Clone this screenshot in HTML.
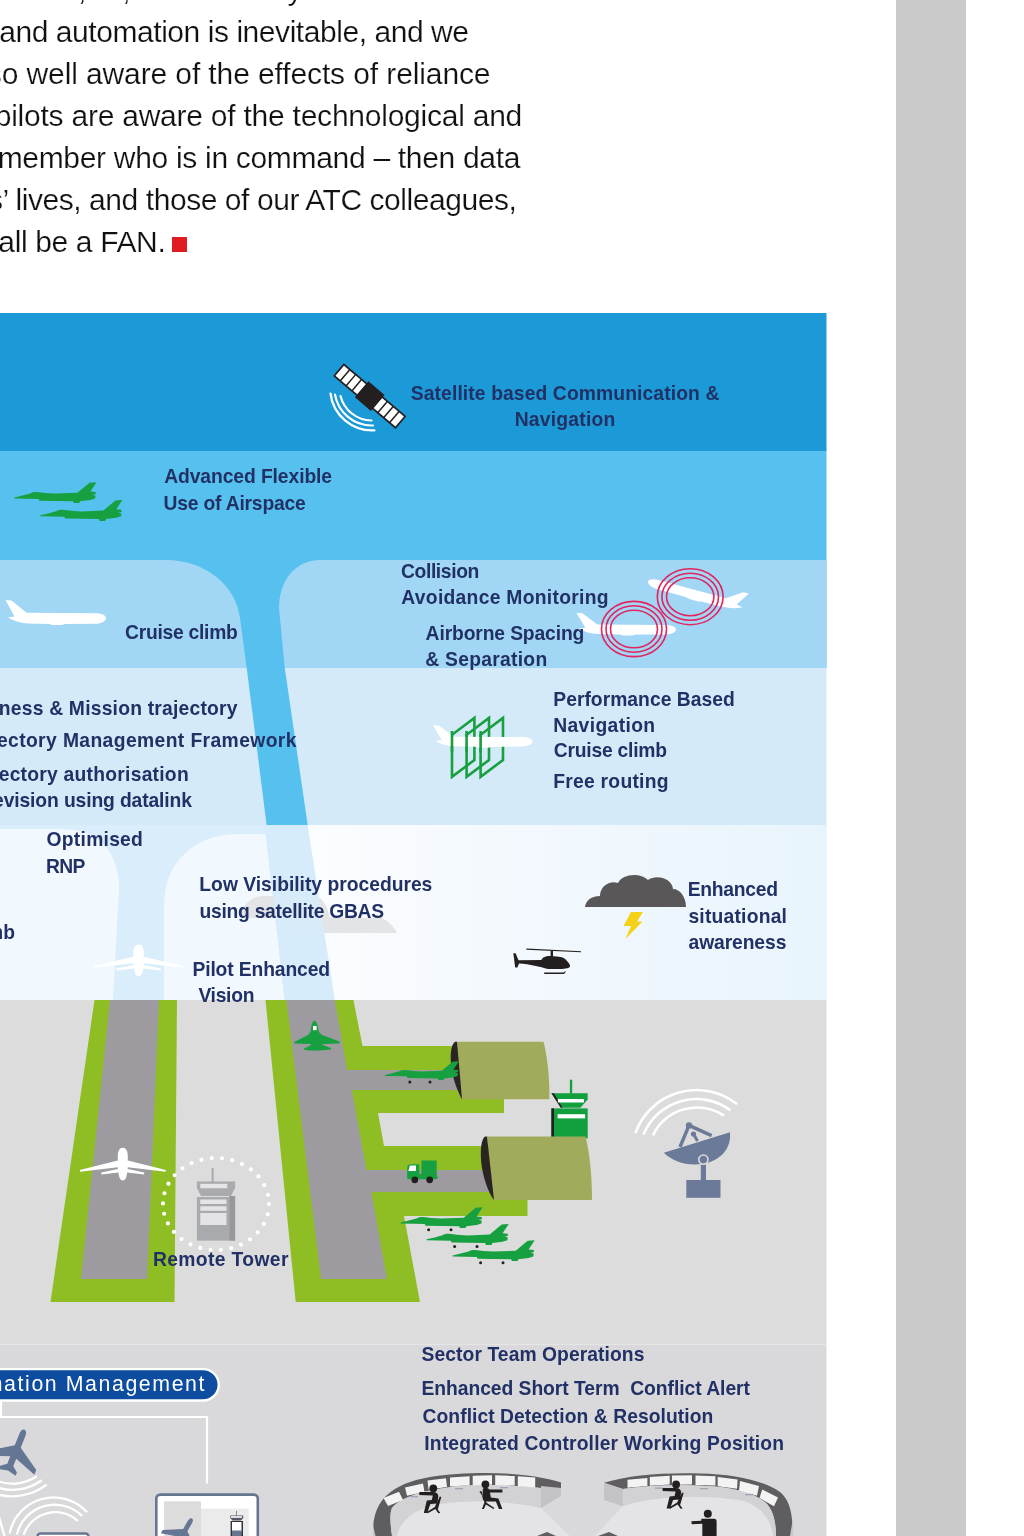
<!DOCTYPE html>
<html><head><meta charset="utf-8">
<style>
html,body{margin:0;padding:0;background:#fff;width:1024px;height:1536px;overflow:hidden}
svg{position:absolute;left:0;top:0;display:block;will-change:transform}
text{font-family:"Liberation Sans",sans-serif}
</style></head><body>
<svg width="1024" height="1536" viewBox="0 0 1024 1536">
<rect x="0" y="0" width="1024" height="1536" fill="#fff"/>
<rect x="896" y="0" width="70" height="1536" fill="#cacaca"/>
<!-- paragraph -->
<g font-size="30" fill="#111" stroke="#fff" stroke-width="0.2">
<text x="-0.75" y="41.5" letter-spacing="-0.445">and automation is inevitable, and we</text>
<text x="-13.16" y="83.8" letter-spacing="-0.112">so well aware of the effects of reliance</text>
<text x="-5.27" y="126.1" letter-spacing="-0.236">pilots are aware of the technological and</text>
<text x="-2.38" y="167.6" letter-spacing="-0.308">member who is in command – then data</text>
<text x="-148.24" y="209.9" letter-spacing="-0.438">passengers’ lives, and those of our ATC colleagues,</text>
<text x="-32.62" y="251.5" letter-spacing="-0.365">shall be a FAN.</text>
<text x="78" y="-0.5">,</text><text x="122.2" y="-0.5">,</text><text x="287.5" y="-0.5">y</text>
</g>
<rect x="172" y="237" width="15" height="15" fill="#e01b22"/>

<!-- DIAGRAM -->
<g id="diagram">
<!-- bands -->
<rect x="0" y="313" width="826.5" height="138" fill="#1b9ad7"/>
<rect x="0" y="451" width="826.5" height="217" fill="#56c1ef"/>
<!-- band3 lobes -->
<path d="M0,560 H166 C205,560 236,585 240,618 L246.7,668 H0 Z" fill="#a1d7f5"/>
<path d="M826.5,560 H320 C296,560 279,580 279,608 L284.8,668 H826.5 Z" fill="#a1d7f5"/>
<rect x="0" y="668" width="826.5" height="157" fill="#d4eaf9"/>
<path d="M246.7,668 L284.8,668 L307.7,825 L266.6,825 Z" fill="#56c1ef"/>
<!-- band5 -->
<rect x="0" y="825" width="826.5" height="175" fill="#d9edfa"/>
<path d="M0,829 H62 C98,829 119,852 119,888 L113,1000 H0 Z" fill="#f1f8fe"/>
<path d="M164,1000 L164,905 C164,862 195,834 238,834 L265.5,834 L284.7,1000 Z" fill="#f1f8fe"/>
<defs>
<linearGradient id="g5" x1="0" y1="0" x2="1" y2="0">
<stop offset="0" stop-color="#fbfdff"/><stop offset="0.25" stop-color="#f6fafe"/><stop offset="1" stop-color="#e8f4fc"/>
</linearGradient>
</defs>
<path d="M307.5,825 H826.5 V1000 H334.7 Z" fill="url(#g5)"/>
<path d="M240,918 C242,906 249,897.5 262,896 L314,896 C322,896.5 327,905 330,917.5 L381,918 C388,920 394,927 397,933 L297,933 L290,918 Z" fill="#e3e4e6"/>
<path d="M265,825 L307.5,825 L334.7,1000 L284.7,1000 Z" fill="#d6ebfa" opacity="0.9"/>
<!-- ground -->
<rect x="0" y="1000" width="826.5" height="344" fill="#dcdcdd"/>
<rect x="0" y="1344" width="826.5" height="192" fill="#d9d9db"/>
<rect x="0" y="1344" width="826.5" height="1" fill="#e6e6e7"/>
<!-- left runway -->
<path d="M94.5,1000 H177 L174.5,1302 H50.5 Z" fill="#8fbe24"/>
<path d="M110,1000 H159 L147,1279 H81 Z" fill="#9d9b9f"/>
<!-- right runway + taxiways -->
<path d="M265.5,1000 H353.4 L362.5,1046 H504 V1113 H378 L384,1146 H527.5 V1216 H404 L420,1302 H295.7 Z" fill="#8fbe24"/>
<path d="M286.4,1000 H334.8 L347,1070 H470 V1090 H351.8 L366.4,1170 H500 V1192 H371.3 L387,1279 H321 Z" fill="#9d9b9f"/>
<!-- tower behind hangar2 -->
<g>
<rect x="569.9" y="1079.7" width="2.3" height="14" fill="#11a03d"/>
<path d="M551.4,1093.2 H587.7 V1099.6 L580.4,1107.8 H560.8 Z" fill="#11a03d"/>
<rect x="551.4" y="1108.4" width="36.3" height="30" fill="#11a03d"/>
<path d="M551.4,1093.2 H554 L562.5,1107.8 H560.8 Z" fill="#231f20"/>
<rect x="551.4" y="1108.4" width="2.6" height="30" fill="#231f20"/>
<rect x="557.9" y="1099" width="26" height="3.5" fill="#fff"/>
<rect x="557.6" y="1114.2" width="27.5" height="4.2" fill="#fff"/>
</g>
<!-- hangar1 -->
<path d="M457,1041.7 H543.5 C547,1055 549.6,1075 549.4,1099.3 H462 Z" fill="#a2ab5c"/>
<path d="M455,1041.7 C449.5,1046 450,1062 452.5,1074 C455,1085 459,1094 462,1099.3 L457,1041.7 Z" fill="#2a2523"/>
<!-- hangar2 -->
<path d="M487,1136.4 H585.5 C589,1150 592,1172 592,1200 H494 Z" fill="#a2ab5c"/>
<path d="M485,1136.4 C479.5,1141 480,1160 483,1173 C486,1186 490,1195 494,1200 L487,1136.4 Z" fill="#2a2523"/>
</g>


<defs>
<path id="jet" d="M0,-0.5 L8,-2.4 L15.8,-4.6 C18,-5.6 20,-6.1 22.3,-6 C26,-5.9 28,-5.3 30.6,-5.1 L40.8,-4.4 L63.1,-5.3 L75.1,-15.3 L82.1,-15.8 L76,-6.5 L81.2,-6 L81.2,-3.7 L77.9,-3.2 L81.2,-2.3 L80.7,0.5 L76,1.9 L65.8,3.2 L64.9,5.1 L59.4,5.1 L58.4,3.2 L25,2.8 L24.1,0.9 L0,0.5 Z"/>
<path id="liner" d="M0,0 L6,0.4 L21,12.8 L91,13.2 C97,13.4 100.5,15.6 100.5,18.2 C100.5,21 96,23.6 90,23.8 L60,24 L56,25 L47,25 L44,24 L22,23.4 C14,23 8,21 2.5,17.5 L9,16.4 Z"/>
<path id="topliner" d="M0,-16.2 C3.2,-16.2 5,-13 5,-8 L5,-3.5 L43,6 L42.8,7.8 L5,3.2 L4.8,5 L21.5,8.6 L21.3,10.5 L4.4,8.5 C3.8,13.5 2.5,16.5 0,16.5 C-2.5,16.5 -3.8,13.5 -4.4,8.5 L-21.3,10.5 L-21.5,8.6 L-4.8,5 L-5,3.2 L-42.8,7.8 L-43,6 L-5,-3.5 L-5,-8 C-5,-13 -3.2,-16.2 0,-16.2 Z"/>
</defs>
<!-- satellite -->
<g transform="translate(369.7,396.1) rotate(40.3)">
<rect x="-41" y="-8.3" width="82" height="16.6" fill="#231f20"/>
<g fill="#fff">
<rect x="-39.3" y="-6.6" width="6.2" height="13.2"/><rect x="-31.6" y="-6.6" width="6.2" height="13.2"/><rect x="-23.9" y="-6.6" width="6.2" height="13.2"/><rect x="-16.2" y="-6.6" width="5.6" height="13.2"/>
<rect x="10.6" y="-6.6" width="5.6" height="13.2"/><rect x="17.7" y="-6.6" width="6.2" height="13.2"/><rect x="25.4" y="-6.6" width="6.2" height="13.2"/><rect x="33.1" y="-6.6" width="6.2" height="13.2"/>
</g>
<rect x="-10.5" y="-10.5" width="21" height="21" fill="#231f20"/>
</g>
<g fill="none" stroke="#fff" stroke-width="2.2" stroke-linecap="round">
<path d="M330.5,393.5 A42,42 0 0 0 374.5,430.3"/>
<path d="M335,394.6 A37.5,37.5 0 0 0 373,425.5"/>
<path d="M340.5,396 A32.5,32.5 0 0 0 371.5,420.5"/>
</g>
<!-- sky jets -->
<use href="#jet" transform="translate(14.4,498)" fill="#17a03f"/>
<use href="#jet" transform="translate(40.3,515.8)" fill="#17a03f"/>
<!-- band3 white liner left -->
<use href="#liner" transform="translate(5.5,600)" fill="#fff"/>
<!-- CAM planes -->
<use href="#liner" transform="translate(749,593.5) scale(-1,1) rotate(-15.5) scale(1,0.85)" fill="#fff"/>
<use href="#liner" transform="translate(576.5,613) scale(0.99,0.9)" fill="#fff"/>
<g fill="none" stroke="#e2245f" stroke-width="1.6">
<ellipse cx="690.2" cy="596.7" rx="32.9" ry="28"/><ellipse cx="690.2" cy="596.7" rx="28.3" ry="23.5"/><ellipse cx="690.2" cy="596.7" rx="23.7" ry="19"/>
<ellipse cx="634" cy="629" rx="32.5" ry="27.6"/><ellipse cx="634" cy="629" rx="28" ry="23.2"/><ellipse cx="634" cy="629" rx="23.5" ry="18.8"/>
</g>
<!-- PBN icon -->
<g fill="none" stroke="#17a03f" stroke-width="2.6">
<path d="M452,776.9 V734.8 L474.4,717.9 V760 Z"/>
<path d="M466.6,776.9 V734.8 L489,717.9 V760 Z"/>
<path d="M480.6,776.9 V734.8 L503,717.9 V760 Z"/>
</g>
<use href="#liner" transform="translate(432.9,725.2) scale(0.99,0.9)" fill="#fff"/>
<g stroke="#17a03f" stroke-width="2.6">
<path d="M452,731 V752"/><path d="M466.6,731 V752"/><path d="M480.6,731 V752"/>
</g>
<!-- band5 white liner (top view) -->
<use href="#topliner" transform="translate(138.6,960.2) scale(1.04,0.97)" fill="#fff"/>
<!-- storm cloud -->
<path d="M585,906.9 C586,900 592,896 600,896 C600,886 610,880 618,883 C622,874 640,872 648,880 C656,874 672,878 673,889 C680,889 686,897 686,906.9 Z" fill="#5a5758"/>
<path d="M631,912 L643,912 L637,921.5 L642.5,921.5 L625.5,939 L631,926 L623.5,926 Z" fill="#f5d21a"/>
<!-- helicopter -->
<g fill="#231f20">
<path d="M526.4,948.6 L581,951.2 L581,952.2 L526.4,949.8 Z"/>
<rect x="550.6" y="951" width="2.4" height="6"/>
<path d="M513.3,953.3 L515.6,953.3 L518.5,960.3 L541.5,960 C542,958 545,956 550,956 L557,956.5 C562,957 565,958 567,961 C569,963 570.3,965 570,966.5 C569.5,968 566,969 560,969 L548,969 C540,967 530,964 519,963.5 L517.4,967.4 L515.2,967.4 Z"/>
<path d="M544.2,972.6 H563.5 L565.3,971 L565.6,972 L564,974 H544.2 Z"/>
</g>
<!-- top-view green jet on runway -->
<path d="M314.5,1020.5 C316.5,1021 318,1026 319,1032 L322,1035 L339.6,1041.4 L339.4,1043.5 L323,1044 L322.5,1045 L331,1048 L331,1049.5 L320,1050.5 L314.8,1050.6 L309,1050.5 L304,1049.7 L304.2,1048.5 L311,1045 L310.5,1044 L294.2,1043.6 L294.2,1042 L308,1035 L310.5,1032 C311,1026 312.5,1021 314.5,1020.5 Z" fill="#17a03f"/>
<rect x="313" y="1026" width="3.6" height="4.2" fill="#fff"/>
<!-- taxi jet -->
<use href="#jet" transform="translate(385,1075.5) scale(0.9)" fill="#17a03f"/>
<circle cx="409.8" cy="1082" r="1.5" fill="#231f20"/><circle cx="430" cy="1082" r="1.5" fill="#231f20"/>
<!-- ground jets -->
<use href="#jet" transform="translate(400.6,1223)" fill="#17a03f"/>
<use href="#jet" transform="translate(426.6,1239.8)" fill="#17a03f"/>
<use href="#jet" transform="translate(452.6,1256)" fill="#17a03f"/>
<g fill="#231f20">
<circle cx="428.6" cy="1229.8" r="1.5"/><circle cx="451" cy="1229.8" r="1.5"/>
<circle cx="454.6" cy="1246.6" r="1.5"/><circle cx="477" cy="1246.6" r="1.5"/>
<circle cx="480.6" cy="1262.8" r="1.5"/><circle cx="503" cy="1262.8" r="1.5"/>
</g>
<!-- truck -->
<g>
<path d="M407.2,1168 C407.2,1165.5 408.5,1164.2 411,1164.2 H419.4 V1179.3 H407.2 Z" fill="#17a03f"/>
<rect x="421.4" y="1160.5" width="15.3" height="13.6" fill="#17a03f"/>
<path d="M419,1173.9 H436.7 L437.6,1177.8 C437.2,1178.9 436.2,1179.3 435,1179.3 H419 Z" fill="#17a03f"/>
<path d="M409.9,1165.6 H416 V1171 H408.3 Z" fill="#fff"/>
<circle cx="414.8" cy="1179.8" r="3.4" fill="#231f20"/><circle cx="429.7" cy="1179.8" r="3.4" fill="#231f20"/>
</g>
<!-- left runway white liner -->
<use href="#topliner" transform="translate(122.8,1164)" fill="#fff"/>
<!-- dotted circle -->
<ellipse cx="216" cy="1204" rx="53" ry="46" fill="none" stroke="#fff" stroke-width="4.2" stroke-linecap="round" stroke-dasharray="0 10.4"/>
<!-- remote tower -->
<g>
<rect x="211.6" y="1168" width="2" height="14" fill="#a9aaae"/>
<path d="M196.9,1181.5 H235.1 V1188 L231,1196 H201 L196.9,1188 Z" fill="#a9aaae"/>
<rect x="196.9" y="1197" width="38.2" height="43.6" fill="#a9aaae"/>
<rect x="229.5" y="1196" width="5.6" height="44.6" fill="#97979c"/>
<rect x="200.3" y="1183.8" width="27" height="4.5" fill="#e4e4e7"/>
<rect x="200.3" y="1199.5" width="26.2" height="4.5" fill="#e4e4e7"/>
<rect x="200.3" y="1206.3" width="26.2" height="4.5" fill="#e4e4e7"/>
<rect x="200.3" y="1213" width="26.2" height="12" fill="#e4e4e7"/>
</g>
<!-- satellite dish -->
<g fill="none" stroke="#fff" stroke-width="2.6" stroke-linecap="round">
<path d="M635.7,1132.2 A65,65 0 0 1 736.2,1103.5"/>
<path d="M643.9,1133.6 A57,57 0 0 1 729.4,1109.6"/>
<path d="M653.5,1134.3 A49,49 0 0 1 723.2,1115.1"/>
</g>
<g fill="#6a7a98">
<path d="M663.8,1152.7 L730,1132.2 C731.5,1148 721,1161 702,1164 C686,1166 672,1161 663.8,1152.7 Z"/>
<path d="M680,1147 L689,1125.4 L711.6,1135.6" fill="none" stroke="#6a7a98" stroke-width="3.4" stroke-linejoin="round"/>
<circle cx="689" cy="1125.4" r="3.2"/>
<path d="M693.5,1134 L697.5,1141" fill="none" stroke="#6a7a98" stroke-width="3"/>
<circle cx="693.5" cy="1134" r="2.6"/>
<rect x="700.8" y="1159" width="5.2" height="22"/>
<circle cx="703.4" cy="1159.6" r="4.6" stroke="#dcdcdd" stroke-width="1.6"/>
<rect x="686.3" y="1180" width="34.2" height="17.8"/>
</g>


<!-- bottom: information management -->
<rect x="-20" y="1369.1" width="238.7" height="31.4" rx="15.7" fill="#0d4c9f" stroke="#fff" stroke-width="2.3"/>
<g fill="none" stroke="#fff" stroke-width="2.2">
<path d="M1,1401 V1417 H207 V1483.5"/>
</g>
<path id="pict" transform="translate(15.5,1452) rotate(22)" d="M0,-24 C2.3,-24 3.2,-21 3.2,-18 L3.2,-6 L26,9 L26,14 L3.2,6 L3.2,14 L9,18.5 L9,22 L0,20 L-9,22 L-9,18.5 L-3.2,14 L-3.2,6 L-26,14 L-26,9 L-3.2,-6 L-3.2,-18 C-3.2,-21 -2.3,-24 0,-24 Z" fill="#657594"/>
<g fill="none" stroke="#fff" stroke-width="2.3" stroke-linecap="round">
<path d="M-2.9,1480.9 A43.5,43.5 0 0 0 36.1,1476.8"/>
<path d="M-5,1486.7 A49.7,49.7 0 0 0 41,1480.7"/>
<path d="M-7.2,1492.9 A56.3,56.3 0 0 0 45.9,1485.1"/>
<path d="M9.8,1532.5 A45,45 0 0 1 86.4,1511.5"/>
<path d="M17.1,1533.5 A39,39 0 0 1 81.5,1515.4"/>
<path d="M23.9,1534 A33.5,33.5 0 0 1 77.1,1520.3"/>
<path d="M-1,1517 L4.5,1536"/>
</g>
<rect x="37.5" y="1533.5" width="51" height="10" rx="3" fill="#fff" stroke="#667590" stroke-width="2.5"/>
<!-- monitor 2 -->
<rect x="156.3" y="1494.6" width="101.5" height="50" rx="4" fill="#fff" stroke="#667590" stroke-width="2.6"/>
<rect x="164" y="1501.3" width="37" height="40" fill="#dcdcdd"/>
<rect x="201" y="1508.6" width="47.8" height="35" fill="#ebebec"/>
<path transform="translate(183,1534) rotate(30) scale(0.75)" d="M0,-24 C2.3,-24 3.2,-21 3.2,-18 L3.2,-6 L26,9 L26,14 L3.2,6 L3.2,14 L9,18.5 L9,22 L0,20 L-9,22 L-9,18.5 L-3.2,14 L-3.2,6 L-26,14 L-26,9 L-3.2,-6 L-3.2,-18 C-3.2,-21 -2.3,-24 0,-24 Z" fill="#657594"/>
<g>
<rect x="236" y="1510.8" width="1" height="5" fill="#888"/>
<path d="M230.3,1515.5 H243.2 V1518 L241,1520.5 H232.5 L230.3,1518 Z" fill="#556"/>
<rect x="231" y="1516.2" width="11" height="1.6" fill="#fff"/>
<rect x="230.6" y="1521" width="12.4" height="15" fill="#333"/>
<rect x="232" y="1522" width="9.5" height="10" fill="#fff"/>
<rect x="232" y="1530.5" width="9.5" height="5.5" fill="#667590"/>
</g>
<!-- control rooms -->
<g>
<!-- left console -->
<path d="M397,1536 C400,1520 415,1508 440,1504 C470,1500 505,1500 541,1508 L570,1536 Z" fill="#e4e4e6"/>
<path d="M373,1536 C372,1505 385,1485 430,1477 C470,1471 525,1471 561,1482.4 L561,1490 L541,1488 C510,1484 470,1484.5 448,1487.4 C420,1491 400,1498 392,1508 C389,1515 391,1528 392,1536 Z" fill="#5f5d60"/>
<path d="M373,1524 C373.5,1528 374.5,1532 375.5,1536 L373,1536 Z" fill="#c8c8ca"/>
<path d="M392,1508 C400,1498 420,1491 448,1487.4 C470,1484.5 510,1484 541,1488 L541,1508 C505,1500 470,1500 440,1504 C415,1508 400,1520 397,1536 L392,1536 C391,1528 389,1515 392,1508 Z" fill="#d2d2d4"/>
<path d="M541,1486 L561,1488 L561,1496 L541,1508 Z" fill="#c3c3c5"/>
<g fill="#f3f3f4">
<path d="M383.5,1498 L399,1491.7 L403,1500 L388,1506 Z"/>
<path d="M405,1487.5 L423,1483.5 L424.5,1492 L407,1495.8 Z"/>
<path d="M427.5,1480.5 L446,1478.3 L447,1487 L428.5,1489.6 Z"/>
<path d="M450,1477.5 L469.6,1476.3 L469.6,1485.3 L450,1486.5 Z"/>
<path d="M472.7,1475.8 L492,1475.3 L492,1484.8 L472.7,1485.5 Z"/>
<path d="M495.2,1475.3 L514.7,1475.8 L514.7,1485.5 L495.2,1485 Z"/>
<path d="M517.8,1476.3 L535.2,1477.5 L535.2,1487.6 L517.8,1486.3 Z"/>
</g>
<g fill="#8a93ad" opacity="0.7">
<rect x="410" y="1496" width="8" height="1.3"/><rect x="455" y="1488" width="8" height="1.3"/><rect x="500" y="1487" width="8" height="1.3"/>
</g>
<path d="M537,1536 L547,1532 L556,1536 Z" fill="#5f5d60"/>
<!-- right console -->
<path d="M622.8,1506.2 C650,1496 700,1494 740,1500 C760,1505 771,1518 773,1536 L595,1536 Z" fill="#e4e4e6"/>
<path d="M604,1482.8 C630,1475 660,1472.5 700,1473.4 C735,1474 765,1481 780,1492 C790,1500 793,1515 792.7,1536 L776,1536 C776,1522 773,1510 766,1503 C755,1494 740,1489 715,1486.5 C680,1484 650,1485 622.8,1489 Z" fill="#5f5d60"/>
<path d="M792.7,1520 C793.5,1526 793.5,1531 793,1536 L790,1536 Z" fill="#c8c8ca"/>
<path d="M622.8,1489 C650,1485 680,1484 715,1486.5 C740,1489 755,1494 766,1503 C773,1510 776,1522 776,1536 L773,1536 C771,1518 760,1505 740,1500 C700,1494 650,1496 622.8,1506.2 Z" fill="#d2d2d4"/>
<path d="M604,1482.8 L622.8,1489 L622.8,1506.2 L604,1500 Z" fill="#c3c3c5"/>
<g fill="#f3f3f4">
<path d="M627.5,1479.8 L647.4,1478 L647.4,1486 L627.5,1487.8 Z"/>
<path d="M649.8,1477 L669.7,1475.8 L669.7,1484.5 L649.8,1485.7 Z"/>
<path d="M672,1475.5 L692,1475.3 L692,1484.6 L672,1484.8 Z"/>
<path d="M695.5,1475.5 L715.4,1476.2 L715.4,1485.6 L695.5,1484.9 Z"/>
<path d="M717.7,1477 L737.6,1479.5 L737,1488.7 L717.7,1486.2 Z"/>
<path d="M740,1481 L759,1486 L757,1495.7 L739,1490.5 Z"/>
<path d="M762.2,1489.5 L778,1497.5 L774,1506.2 L759.5,1498 Z"/>
</g>
<g fill="#8a93ad" opacity="0.7">
<rect x="655" y="1487.5" width="8" height="1.3"/><rect x="700" y="1488" width="8" height="1.3"/><rect x="745" y="1494" width="8" height="1.3"/>
</g>
<path d="M598,1536 L609,1532 L618,1536 Z" fill="#5f5d60"/>
</g>
<!-- persons -->
<g fill="#231f20">
<g transform="translate(419.3,1484.5)">
<circle cx="14" cy="3.8" r="3.9"/>
<path d="M0,7.5 H14 C17,7.5 19,9 19,12 L18,19 L11,19.5 L8,28.6 L4.5,28.6 L7.5,16 L12.5,15.5 L13.5,11 L0,10.5 Z"/>
<path d="M20.5,12 L22,12.5 L18.5,25 L21,28.6 L19,28.7 L16,24.5 L8.5,28.7 L7.5,27.6 L15.5,22.5 Z"/>
</g>
<g transform="translate(480.9,1480.4)">
<circle cx="4.5" cy="3.9" r="3.9"/>
<path d="M2,8 C6,7 8,8 8.5,9 L21.5,9.2 V12 L9,12.2 L10,17 L17.5,18 L21.5,28.7 L18,28.7 L15,21 L6,21 C3,21 1.5,19 1.5,16 Z"/>
<path d="M-1.5,11 L0.5,10.5 L3.5,22 L1,28.7 L3,28.7 L5,24 L12.5,28.7 L13.5,27.6 L6,22.5 Z"/>
</g>
<g transform="translate(662.6,1480.5)">
<circle cx="13.5" cy="3.9" r="3.9"/>
<path d="M0,7.5 H13.5 C16.5,7.5 18.5,9 18.5,12 L17.5,19 L10.5,19.5 L7.5,28.1 L4,28.1 L7,16 L12,15.5 L13,11 L0,10.5 Z"/>
<path d="M19.5,12 L21,12.5 L17.5,24.5 L20,28.1 L18,28.2 L15,24 L7.5,28.2 L6.5,27.1 L14.5,22 Z"/>
</g>
<g transform="translate(690.8,1509.8)">
<circle cx="17" cy="4" r="4"/>
<path d="M10.5,9 H23.5 C25,9 25.8,10 25.8,11.5 V26.2 H23 V36 H18 V27 H16 V36 H11.5 V14 L1,14.5 L0.5,11.5 L10.5,11 Z"/>
</g>
</g>

<!-- LABELS -->
<g fill="#223165" font-weight="bold" style="white-space:pre">
<text x="410.8" y="399.9" font-size="19.3" letter-spacing="0.106">Satellite based Communication &amp;</text>
<text x="514.65" y="426.3" font-size="19.3" letter-spacing="0.241">Navigation</text>
<text x="164.22" y="483.4" font-size="19.3" letter-spacing="-0.091">Advanced Flexible</text>
<text x="163.47" y="509.8" font-size="19.3" letter-spacing="-0.195">Use of Airspace</text>
<text x="125.05" y="639.4" font-size="19.3" letter-spacing="-0.271">Cruise climb</text>
<text x="400.95" y="578.1" font-size="19.3" letter-spacing="-0.37">Collision</text>
<text x="401.32" y="604.4" font-size="19.3" letter-spacing="0.287">Avoidance Monitoring</text>
<text x="425.62" y="640.4" font-size="19.3" letter-spacing="-0.131">Airborne Spacing</text>
<text x="425.25" y="666.2" font-size="19.3" letter-spacing="0.272">&amp; Separation</text>
<text x="553.25" y="705.9" font-size="19.3" letter-spacing="0.022">Performance Based</text>
<text x="553.25" y="732.1" font-size="19.3" letter-spacing="0.363">Navigation</text>
<text x="553.75" y="757" font-size="19.3" letter-spacing="-0.226">Cruise climb</text>
<text x="553.25" y="787.9" font-size="19.3" letter-spacing="0.252">Free routing</text>
<text x="-43.83" y="714.8" font-size="19.3" letter-spacing="0.211">Business &amp; Mission trajectory</text>
<text x="-38.98" y="746.6" font-size="19.3" letter-spacing="0.393">Trajectory Management Framework</text>
<text x="-63.07" y="780.8" font-size="19.3" letter-spacing="0.245">4D trajectory authorisation</text>
<text x="-53.53" y="806.6" font-size="19.3" letter-spacing="-0.118">and revision using datalink</text>
<text x="46.55" y="845.8" font-size="19.3" letter-spacing="0.257">Optimised</text>
<text x="46.05" y="872.6" font-size="19.3" letter-spacing="-0.636">RNP</text>
<text x="15" y="938.6" font-size="19.3" text-anchor="end">Cruise climb</text>
<text x="199.35" y="891.1" font-size="19.3" letter-spacing="-0.009">Low Visibility procedures</text>
<text x="199.47" y="917.5" font-size="19.3" letter-spacing="-0.264">using satellite GBAS</text>
<text x="192.45" y="976" font-size="19.3" letter-spacing="-0.129">Pilot Enhanced</text>
<text x="198.38" y="1002.4" font-size="19.3" letter-spacing="-0.293">Vision</text>
<text x="687.75" y="895.7" font-size="19.3" letter-spacing="-0.272">Enhanced</text>
<text x="688.38" y="923" font-size="19.3" letter-spacing="0.219">situational</text>
<text x="688.5" y="949.4" font-size="19.3" letter-spacing="-0.096">awareness</text>
<text x="152.95" y="1266.2" font-size="19.3" letter-spacing="0.371">Remote Tower</text>
<text x="421.6" y="1361.1" font-size="19.3" letter-spacing="0.067">Sector Team Operations</text>
<text x="421.45" y="1394.7" font-size="19.3" letter-spacing="-0.042">Enhanced Short Term&#160; Conflict Alert</text>
<text x="422.55" y="1423" font-size="19.3" letter-spacing="0.049">Conflict Detection &amp; Resolution</text>
<text x="424.35" y="1450.3" font-size="19.3" letter-spacing="0.149">Integrated Controller Working Position</text>


</g>
<text x="-65.82" y="1391.4" font-size="21.3" letter-spacing="1.594" fill="#fff">Information Management</text>
</svg>
</body></html>
